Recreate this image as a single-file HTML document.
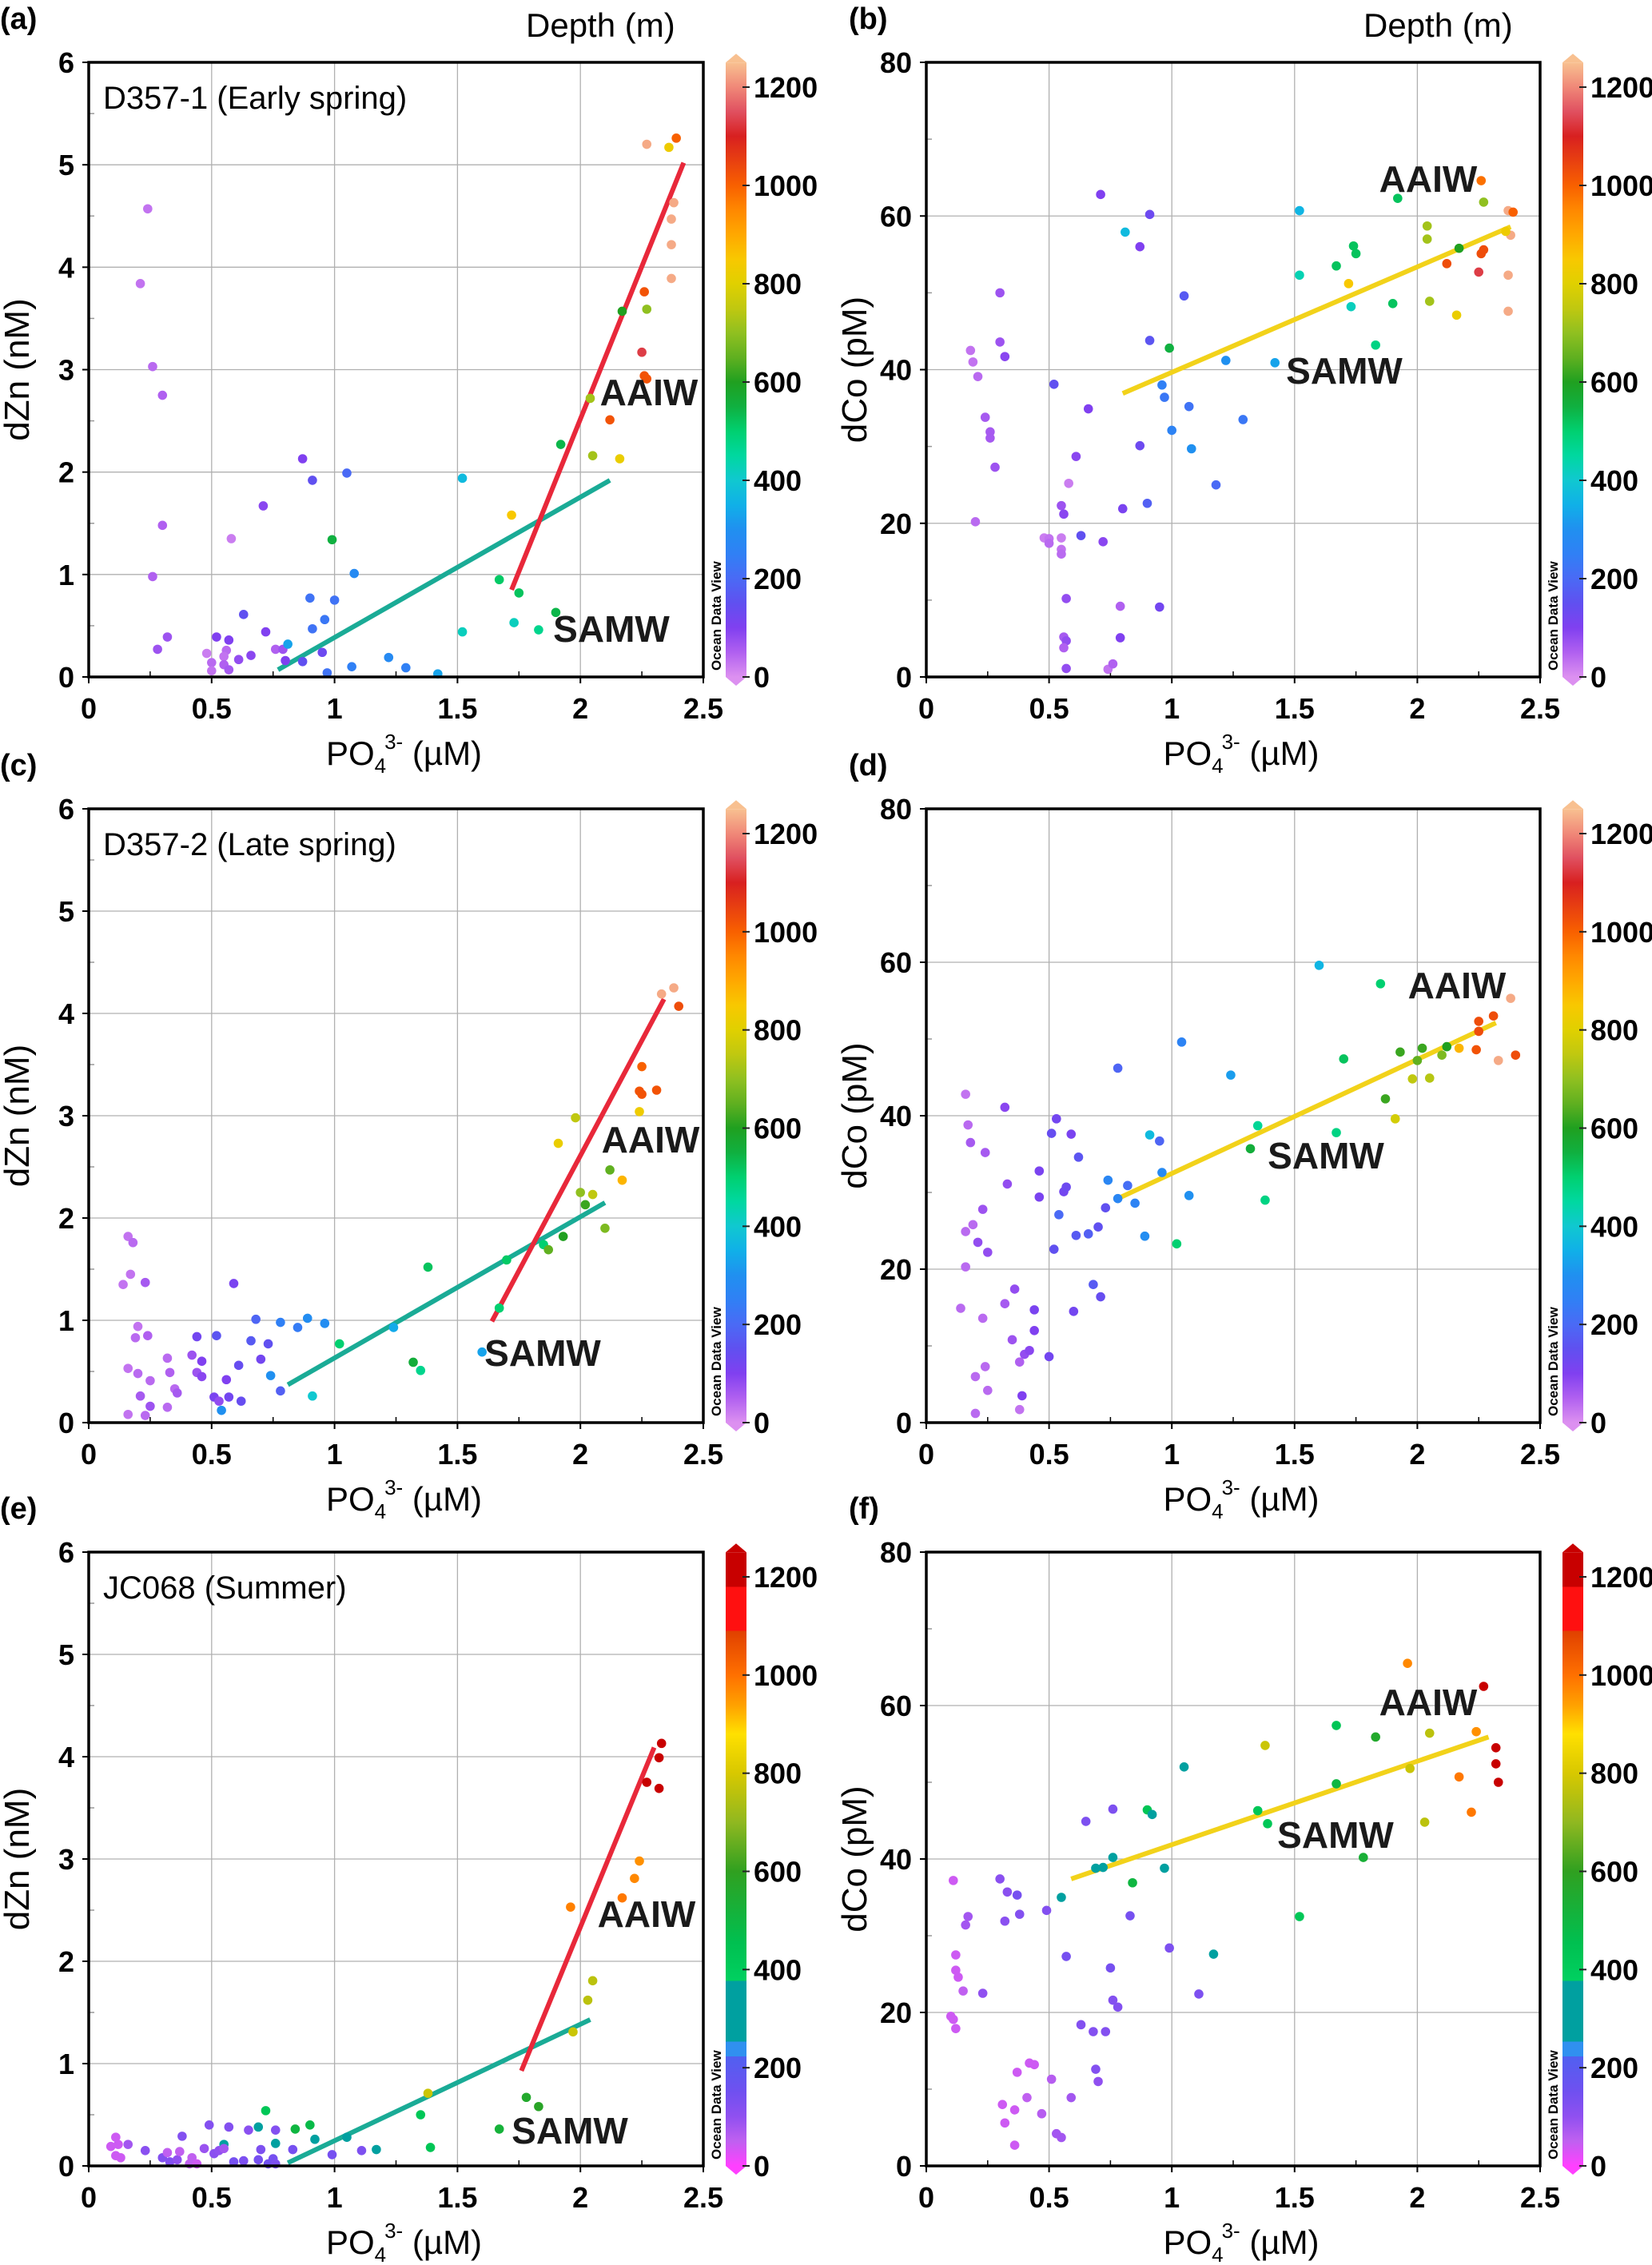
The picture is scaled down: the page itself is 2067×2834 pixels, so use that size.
<!DOCTYPE html>
<html><head><meta charset="utf-8"><style>
body{margin:0;background:#fff}
svg{display:block}
text{font-family:"Liberation Sans",Arial,sans-serif}
</style></head><body>
<svg id="fig" width="2067" height="2834" viewBox="0 0 2067 2834" xmlns="http://www.w3.org/2000/svg"></svg>
<script>
// ---------- data (PO4 uM, value, depth m) ----------
const aX=[0.24,0.21,0.26,0.30,0.30,0.26,0.28,0.32,0.52,0.57,0.48,0.50,0.50,0.56,0.55,0.55,0.57,0.61,0.58,0.63,0.66,0.71,0.72,0.76,0.79,0.80,0.81,0.87,0.87,0.91,0.90,0.91,0.95,0.96,0.97,1.00,0.99,1.05,1.08,1.07,1.22,1.29,1.42,1.52,1.52,1.67,1.72,1.75,1.73,1.83,1.90,1.92,2.04,2.05,2.12,2.16,2.17,2.27,2.26,2.25,2.26,2.27,2.37,2.37,2.37,2.38,2.27,2.36,2.39];
const aY=[4.57,3.84,3.03,2.75,1.48,0.98,0.27,0.39,0.39,0.36,0.23,0.14,0.06,0.26,0.20,0.12,0.07,0.17,1.35,0.61,0.21,1.67,0.44,0.27,0.27,0.16,0.32,2.13,0.15,1.92,0.77,0.47,0.24,0.56,0.04,0.75,1.34,1.99,1.01,0.10,0.19,0.09,0.03,1.94,0.44,0.95,1.58,0.82,0.53,0.46,0.63,2.27,2.72,2.16,2.51,2.13,3.57,3.59,3.76,3.17,2.94,2.91,3.89,4.22,4.47,4.63,5.20,5.17,5.26];
const aD=[30,30,40,50,50,50,70,70,100,100,20,40,30,40,30,50,60,80,20,150,90,90,100,50,70,100,330,100,150,150,220,220,130,230,220,220,550,200,280,250,280,250,330,370,420,510,850,520,420,470,540,540,720,720,1020,820,600,700,1020,1130,1020,1020,1230,1230,1230,1230,1230,830,1000];

const bX=[0.18,0.19,0.21,0.20,0.24,0.26,0.26,0.28,0.30,0.30,0.32,0.48,0.50,0.50,0.55,0.55,0.55,0.55,0.56,0.58,0.57,0.56,0.57,0.56,0.57,0.52,0.63,0.61,0.66,0.71,0.72,0.74,0.76,0.79,0.79,0.80,0.81,0.87,0.87,0.90,0.91,0.91,0.95,0.96,0.97,0.99,1.00,1.05,1.07,1.08,1.18,1.22,1.29,1.42,1.52,1.52,1.67,1.72,1.73,1.74,1.75,1.83,1.90,1.92,2.04,2.04,2.05,2.12,2.16,2.17,2.25,2.26,2.27,2.26,2.27,2.37,2.39,2.37,2.37,2.38,2.36];
const bY=[42.5,41.0,39.1,20.2,33.8,31.9,31.1,27.3,50.0,43.6,41.7,18.1,18.0,17.4,18.1,16.6,16.0,22.3,21.2,25.2,10.2,5.2,4.7,3.8,1.1,38.1,18.4,28.7,34.9,62.8,17.6,1.0,1.7,9.2,5.1,21.9,57.9,30.1,56.0,22.6,60.2,43.8,9.1,38.0,36.4,42.8,32.1,49.6,35.2,29.7,25.0,41.2,33.5,40.9,60.7,52.3,53.5,51.2,48.2,56.1,55.1,43.2,48.6,62.3,58.7,57.0,48.9,53.8,47.1,55.8,52.7,64.6,61.8,55.1,55.6,60.7,60.5,52.3,47.6,57.5,58.0];
const bD=[30,30,40,40,60,60,60,70,70,70,90,20,30,40,20,30,40,70,90,20,80,60,80,50,80,150,150,90,100,100,90,30,50,50,100,110,370,130,100,180,130,160,120,250,230,550,260,170,220,300,200,300,230,330,360,430,520,850,420,520,520,480,520,520,720,720,720,1030,820,600,1130,980,700,1030,1030,1230,1000,1230,1230,1230,830];

const cX=[0.16,0.18,0.17,0.14,0.23,0.20,0.19,0.24,0.16,0.20,0.25,0.21,0.25,0.16,0.23,0.32,0.33,0.32,0.35,0.36,0.42,0.44,0.44,0.46,0.46,0.51,0.52,0.53,0.54,0.56,0.57,0.59,0.61,0.62,0.66,0.68,0.70,0.73,0.74,0.78,0.78,0.85,0.89,0.91,0.96,1.02,1.24,1.32,1.35,1.38,1.60,1.67,1.70,1.85,1.87,1.91,1.93,1.98,2.00,2.02,2.05,2.10,2.12,2.17,2.24,2.25,2.24,2.25,2.31,2.33,2.38,2.40];
const cY=[1.82,1.76,1.45,1.35,1.37,0.94,0.83,0.85,0.53,0.48,0.41,0.26,0.16,0.08,0.07,0.63,0.49,0.15,0.33,0.29,0.66,0.84,0.49,0.60,0.45,0.25,0.85,0.21,0.12,0.42,0.25,1.36,0.56,0.21,0.80,1.01,0.62,0.77,0.46,0.98,0.31,0.93,1.02,0.26,0.97,0.77,0.93,0.59,0.51,1.52,0.69,1.12,1.59,1.74,1.69,2.73,1.82,2.98,2.25,2.13,2.23,1.90,2.47,2.37,3.04,3.48,3.24,3.21,3.25,4.19,4.25,4.07];
const cD=[30,40,30,30,60,30,40,50,30,40,40,60,70,30,40,40,50,40,40,60,70,120,70,100,90,110,160,80,300,100,120,110,140,140,170,190,120,150,300,250,180,240,290,400,290,500,340,560,470,520,330,500,510,500,650,820,600,750,700,620,750,680,650,880,830,1000,1020,1020,1020,1230,1230,1030];

const dX=[0.16,0.17,0.18,0.16,0.19,0.16,0.14,0.21,0.23,0.25,0.24,0.23,0.24,0.20,0.25,0.20,0.32,0.33,0.32,0.36,0.35,0.38,0.40,0.42,0.39,0.38,0.44,0.44,0.46,0.46,0.51,0.53,0.52,0.50,0.54,0.56,0.57,0.59,0.60,0.61,0.62,0.66,0.68,0.70,0.71,0.73,0.74,0.78,0.78,0.82,0.85,0.89,0.91,0.95,0.96,1.02,1.04,1.07,1.24,1.32,1.35,1.38,1.60,1.67,1.70,1.85,1.87,1.91,1.93,1.98,2.00,2.02,2.05,2.10,2.12,2.17,2.24,2.25,2.25,2.31,2.38,2.33,2.40];
const dY=[42.8,38.8,36.5,24.9,25.8,20.3,14.9,23.5,27.8,22.2,35.2,13.6,7.3,6.0,4.2,1.2,41.1,31.1,15.5,17.4,10.8,7.9,8.9,9.4,3.5,1.7,14.7,12.0,32.8,29.4,37.7,39.6,22.6,8.6,27.1,30.1,30.7,37.6,14.5,24.4,34.6,24.6,18.0,25.5,16.4,28.0,31.6,46.2,29.2,30.9,28.6,24.3,37.5,36.7,32.6,23.3,49.6,29.6,45.3,35.7,38.7,29.0,59.6,37.8,47.4,57.2,42.2,39.6,48.3,44.8,47.2,48.8,44.9,47.9,49.0,48.8,48.6,52.3,51.0,53.0,55.3,47.2,47.9];
const dD=[30,40,60,40,40,40,40,80,70,80,60,40,40,40,40,40,90,80,60,80,70,50,80,90,100,30,110,100,110,110,140,120,150,120,200,120,130,110,120,170,160,180,170,150,140,150,270,190,270,210,260,290,370,190,280,500,260,300,320,560,460,480,360,480,520,500,620,780,620,750,650,620,740,680,600,880,1020,1030,1030,1030,1230,1230,1030];

const eX=[0.11,0.09,0.12,0.11,0.13,0.16,0.23,0.30,0.32,0.33,0.36,0.37,0.38,0.41,0.42,0.44,0.47,0.49,0.51,0.53,0.55,0.55,0.57,0.59,0.63,0.65,0.69,0.69,0.70,0.72,0.73,0.75,0.76,0.76,0.76,0.83,0.84,0.90,0.92,0.99,1.05,1.11,1.17,1.35,1.38,1.39,1.67,1.78,1.83,1.96,1.97,2.03,2.05,2.17,2.22,2.24,2.27,2.32,2.32,2.33];
const eY=[0.28,0.19,0.21,0.10,0.08,0.21,0.15,0.08,0.13,0.04,0.06,0.14,0.29,0.02,0.08,0.02,0.17,0.40,0.12,0.15,0.21,0.17,0.38,0.04,0.05,0.35,0.38,0.06,0.16,0.54,0.02,0.07,0.35,0.22,0.02,0.16,0.36,0.40,0.26,0.11,0.28,0.15,0.16,0.50,0.71,0.18,0.36,0.67,0.58,2.53,1.31,1.62,1.81,2.62,2.81,2.98,3.75,3.99,3.69,4.13];
const eD=[40,40,40,40,40,80,110,120,50,120,100,50,120,50,50,40,90,120,110,100,330,80,120,140,130,110,300,140,130,420,150,140,120,330,130,140,500,480,300,140,310,130,310,420,780,430,520,560,580,980,780,760,760,990,970,960,1200,1200,1200,1200];

const fX=[0.11,0.10,0.11,0.12,0.12,0.12,0.13,0.15,0.16,0.17,0.23,0.30,0.33,0.32,0.37,0.38,0.31,0.32,0.36,0.36,0.37,0.42,0.44,0.41,0.47,0.51,0.49,0.53,0.55,0.55,0.57,0.59,0.63,0.65,0.68,0.69,0.70,0.69,0.72,0.73,0.75,0.76,0.76,0.76,0.78,0.83,0.84,0.90,0.92,0.97,0.99,1.05,1.11,1.17,1.35,1.38,1.39,1.52,1.67,1.67,1.78,1.83,1.96,1.97,2.03,2.05,2.17,2.22,2.24,2.27,2.32,2.32,2.33];
const fY=[37.2,19.5,19.1,17.9,27.5,25.5,24.6,22.8,31.4,32.5,22.5,37.4,35.7,31.9,35.3,32.8,8.0,5.6,7.3,2.7,12.2,13.4,13.2,8.9,6.8,11.3,33.3,4.2,3.7,35.0,27.3,8.9,18.4,44.9,17.5,12.6,11.0,38.8,38.9,17.5,25.8,46.5,40.2,21.6,20.7,32.6,36.9,46.4,45.8,38.8,28.4,52.0,22.4,27.6,46.3,54.8,44.6,32.5,57.4,49.8,40.2,55.9,65.5,51.8,44.8,56.4,50.7,46.1,56.6,62.5,54.5,52.4,50.0];
const fD=[40,40,40,40,40,40,40,50,80,80,100,110,110,110,140,120,40,40,40,40,40,40,40,50,60,60,120,80,80,310,140,80,120,130,120,120,100,300,300,120,140,130,310,120,120,140,500,430,310,310,130,320,130,310,420,780,420,420,430,500,530,560,970,780,760,760,990,990,960,1200,1200,1200,1200];

// regression line endpoints
const aLines=[{x:[0.77,2.12],y:[0.07,1.92],c:"#1aab96"},{x:[1.72,2.42],y:[0.85,5.02],c:"#e8283a"}];
const bLines=[{x:[0.80,2.38],y:[36.9,58.6],c:"#f2d21a"}];
const cLines=[{x:[0.81,2.10],y:[0.37,2.15],c:"#1aab96"},{x:[1.64,2.34],y:[0.99,4.14],c:"#e8283a"}];
const dLines=[{x:[0.78,2.32],y:[29.2,52.1],c:"#f2d21a"}];
const eLines=[{x:[0.81,2.04],y:[0.03,1.43],c:"#1aab96"},{x:[1.76,2.30],y:[0.93,4.09],c:"#e8283a"}];
const fLines=[{x:[0.59,2.29],y:[37.4,55.9],c:"#f2d21a"}];

const xTicks=[0,0.5,1,1.5,2,2.5];
const znTicks=[0,1,2,3,4,5,6];
const coTicks=[0,20,40,60,80];
const depthTicks=[0,200,400,600,800,1000,1200];

const contStops=[[0,"#dc90f0"],[50,"#b060f0"],[100,"#8040f0"],[150,"#6050f0"],[200,"#4a6af5"],[250,"#3080f5"],[300,"#2090f0"],[350,"#10b0e8"],[400,"#10c8d0"],[450,"#00d8a0"],[500,"#00d070"],[550,"#10b040"],[600,"#20a020"],[650,"#60b020"],[700,"#90c020"],[750,"#c0c810"],[800,"#e0d000"],[850,"#f8c800"],[900,"#ffa800"],[950,"#ff8800"],[1000,"#f86000"],[1050,"#e84010"],[1100,"#d82020"],[1150,"#e05060"],[1200,"#f08878"],[1250,"#f8c090"]];
const discStops=[[0,"#ff40ff"],[50,"#c060f0"],[100,"#9050f0"],[150,"#7050f0"],[223,"#5060f0"],[223,"#3090f0"],[253,"#3090f0"],[253,"#00a0a0"],[377,"#00a0a0"],[377,"#00d060"],[455,"#00c050"],[600,"#30a020"],[700,"#90b820"],[800,"#d8c800"],[880,"#ffe000"],[940,"#ffa000"],[1000,"#ff7000"],[1090,"#e04000"],[1090,"#ff1010"],[1180,"#ff1010"],[1180,"#c80000"],[1250,"#c80000"]];

const NS="http://www.w3.org/2000/svg";
const svg=document.getElementById('fig');
function el(tag,attrs,parent){const e=document.createElementNS(NS,tag);for(const k in attrs)e.setAttribute(k,attrs[k]);(parent||svg).appendChild(e);return e;}
function hex(c){return [parseInt(c.slice(1,3),16),parseInt(c.slice(3,5),16),parseInt(c.slice(5,7),16)];}
function colorFor(stops,v){
  if(v<=stops[0][0])return stops[0][1];
  for(let i=0;i<stops.length-1;i++){const a=stops[i],b=stops[i+1];
    if(v>=a[0]&&v<=b[0]){if(b[0]===a[0])return b[1];const t=(v-a[0])/(b[0]-a[0]);const A=hex(a[1]),B=hex(b[1]);
      return "rgb("+A.map((q,j)=>Math.round(q+(B[j]-q)*t)).join(",")+")";}}
  return stops[stops.length-1][1];
}

let gid=0;
function panel(p){
  const g=el('g',{});
  
  
  const L=p.L,R=p.R,T=p.T,B=p.B;
  const sx=v=>L+(v-0)/2.5*(R-L);
  const sy=v=>B-v/p.ymax*(B-T);
  // grid
  xTicks.forEach(t=>{if(t>0&&t<2.5){const l=el('line',{x1:sx(t),x2:sx(t),y1:T,y2:B,stroke:"#b0b0b0","stroke-width":1.3},g);}});
  p.yTicks.forEach(t=>{if(t>0&&t<p.ymax){const l=el('line',{x1:L,x2:R,y1:sy(t),y2:sy(t),stroke:"#b0b0b0","stroke-width":1.3},g);}});
  // minor ticks
  for(let t=0.25;t<2.5;t+=0.5){el('line',{x1:sx(t),x2:sx(t),y1:B,y2:B-7,stroke:"#000","stroke-width":1.5},g);}
  const ys=p.yTicks[1]-p.yTicks[0];
  for(let t=ys/2;t<p.ymax;t+=ys){el('line',{x1:L,x2:L+7,y1:sy(t),y2:sy(t),stroke:"#999","stroke-width":1.5},g);}
  // ticks and labels
  xTicks.forEach(t=>{el('line',{x1:sx(t),x2:sx(t),y1:B,y2:B+8,stroke:"#000","stroke-width":2},g);
    const tx=el('text',{x:sx(t),y:B+52,"text-anchor":"middle","font-size":36,"font-weight":"bold"},g);tx.textContent=t;
    });
  p.yTicks.forEach(t=>{el('line',{x1:L-8,x2:L,y1:sy(t),y2:sy(t),stroke:"#000","stroke-width":2},g);
    const tx=el('text',{x:L-18,y:sy(t)+13,"text-anchor":"end","font-size":36,"font-weight":"bold"},g);tx.textContent=t;
    });
  // lines
  p.lines.forEach(ln=>{const l=el('line',{x1:sx(ln.x[0]),y1:sy(ln.y[0]),x2:sx(ln.x[1]),y2:sy(ln.y[1]),stroke:ln.c,"stroke-width":6},g);
    });
  // points
  p.X.forEach((x,i)=>{const c=el('circle',{cx:sx(x),cy:sy(p.Y[i]),r:5.8,fill:colorFor(p.stops,p.D[i])},g);
    });
  // frame
  const fr=el('rect',{x:L,y:T,width:R-L,height:B-T,fill:"none",stroke:"#000","stroke-width":3.5},g);
  
  // axis titles
  const xt=el('text',{x:(L+R)/2+10,y:B+110,"text-anchor":"middle","font-size":42},g);
  xt.innerHTML='PO<tspan font-size="26" dy="10">4</tspan><tspan font-size="26" dy="-30" dx="-2">3-</tspan><tspan dy="20"> (µM)</tspan>';
  
  const yt=el('text',{x:0,y:0,"text-anchor":"middle","font-size":44,transform:`translate(${p.ytx},${(T+B)/2}) rotate(-90)`},g);
  yt.textContent=p.ytitle;
  // panel letter
  const pl=el('text',{x:p.plx,y:T-42,"font-size":38,"font-weight":"bold"},g);pl.textContent='('+p.id+')';
  
  if(p.cruise){const ct=el('text',{x:L+18,y:T+58,"font-size":40},g);ct.textContent=p.cruise;
    }
  p.ann.forEach(a=>{const t=el('text',{x:a[1],y:a[2]+16,"text-anchor":"middle","font-size":46,"font-weight":"bold",fill:"#1a1a1a"},g);t.textContent=a[0];
    });
  // colorbar
  const cx0=p.cbx,cw=26;const y1200=T+31;const cy=v=>B-v/1200*(B-y1200);
  const id='grad'+(gid++);
  const gr=el('linearGradient',{id:id,x1:0,y1:1,x2:0,y2:0},el('defs',{},g));
  p.stops.forEach(s=>el('stop',{offset:(s[0]/1250),"stop-color":s[1]},gr));
  const cb=el('rect',{x:cx0,y:cy(1250),width:cw,height:cy(0)-cy(1250),fill:`url(#${id})`},g);
  
  el('polygon',{points:`${cx0},${cy(1250)} ${cx0+cw},${cy(1250)} ${cx0+cw/2},${cy(1250)-11}`,fill:colorFor(p.stops,1250)},g);
  el('polygon',{points:`${cx0},${B} ${cx0+cw},${B} ${cx0+cw/2},${B+11}`,fill:colorFor(p.stops,0)},g);
  depthTicks.forEach(t=>{el('line',{x1:cx0+cw-5,x2:cx0+cw+4,y1:cy(t),y2:cy(t),stroke:"#222","stroke-width":2},g);
    const tx=el('text',{x:cx0+cw+9,y:cy(t)+13,"font-size":36,"font-weight":"bold"},g);tx.textContent=t;
    });
  const odv=el('text',{x:0,y:0,"font-size":17,"font-weight":"bold",transform:`translate(${cx0-6},${B-8}) rotate(-90)`},g);
  odv.textContent='Ocean Data View';
  if(p.depthTitle){const dt=el('text',{x:p.depthTitle,y:46,"font-size":42},g);dt.textContent='Depth (m)';
    }
}
const rows=[[78,847],[1012,1780],[1942,2710]];
const left={L:111,R:880,cbx:908,ytx:36,plx:0,ymax:6,yTicks:znTicks,ytitle:'dZn (nM)'};
const right={L:1159,R:1927,cbx:1955,ytx:1084,plx:1062,ymax:80,yTicks:coTicks,ytitle:'dCo (pM)'};
panel(Object.assign({},left,{id:'a',T:rows[0][0],B:rows[0][1],X:aX,Y:aY,D:aD,lines:aLines,stops:contStops,cruise:'D357-1 (Early spring)',ann:[['AAIW',812,491],['SAMW',765,787]],depthTitle:658}));
panel(Object.assign({},right,{id:'b',T:rows[0][0],B:rows[0][1],X:bX,Y:bY,D:bD,lines:bLines,stops:contStops,ann:[['AAIW',1787,224],['SAMW',1682,464]],depthTitle:1706}));
panel(Object.assign({},left,{id:'c',T:rows[1][0],B:rows[1][1],X:cX,Y:cY,D:cD,lines:cLines,stops:contStops,cruise:'D357-2 (Late spring)',ann:[['AAIW',814,1426],['SAMW',679,1693]]}));
panel(Object.assign({},right,{id:'d',T:rows[1][0],B:rows[1][1],X:dX,Y:dY,D:dD,lines:dLines,stops:contStops,ann:[['AAIW',1823,1233],['SAMW',1659,1446]]}));
panel(Object.assign({},left,{id:'e',T:rows[2][0],B:rows[2][1],X:eX,Y:eY,D:eD,lines:eLines,stops:discStops,cruise:'JC068 (Summer)',ann:[['AAIW',809,2395],['SAMW',713,2666]]}));
panel(Object.assign({},right,{id:'f',T:rows[2][0],B:rows[2][1],X:fX,Y:fY,D:fD,lines:fLines,stops:discStops,ann:[['AAIW',1787,2130],['SAMW',1671,2296]]}));
</script>
</body></html>
